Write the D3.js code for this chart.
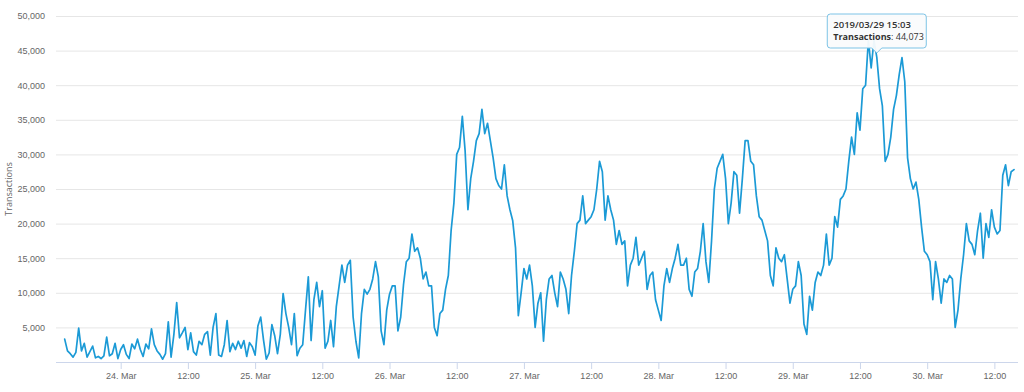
<!DOCTYPE html>
<html>
<head>
<meta charset="utf-8">
<script src="https://cdn.jsdelivr.net/npm/d3@7"></script>
<style>
  html, body { margin: 0; padding: 0; background: #ffffff; }
  svg { display: block; font-family: "Open Sans", "DejaVu Sans", sans-serif; }
</style>
</head>
<body>
<svg id="chart" width="1024" height="392"></svg>
<script>
// ---- data ----
const seriesName = "Transactions";
const seriesStart = "2019-03-23T14:00:00Z";   // first sample
const seriesStepMinutes = 30;                  // sampling interval
const transactions = [
  3300, 1600, 1200, 700, 1400, 4900, 1600, 2700, 700, 1500,
  2300, 600, 800, 500, 900, 3600, 900, 1200, 2700, 500,
  1800, 2500, 1100, 500, 2600, 1900, 3300, 1800, 800, 2600,
  1900, 4800, 2500, 1600, 1100, 400, 1200, 5800, 700, 4000,
  8600, 3500, 4200, 5000, 1800, 4200, 1500, 1000, 3000, 2500,
  4000, 4400, 1000, 5000, 7000, 1000, 800, 2500, 6000, 1500,
  2700, 1800, 3000, 2000, 3100, 800, 2800, 2200, 1000, 5200,
  6500, 3200, 400, 1300, 5400, 3800, 1200, 4000, 9900, 7000,
  5000, 2500, 7000, 900, 2000, 2500, 7500, 12300, 3100, 9000,
  11500, 8000, 10300, 2000, 3000, 6000, 2200, 8000, 11000, 14000,
  11500, 14000, 14700, 6500, 3000, 600, 7000, 10500, 9800, 10500,
  12000, 14500, 12300, 4500, 2500, 7500, 9800, 11000, 11000, 4500,
  6500, 11200, 14500, 15000, 18500, 16000, 16500, 15000, 12000, 13000,
  11000, 11000, 5000, 3800, 7000, 7500, 10500, 12500, 19000, 23000,
  30000, 31000, 35500, 30500, 22000, 26500, 29000, 32000, 33000, 36500,
  33000, 34500, 32000, 29500, 26500, 25500, 25000, 28500, 24000, 22000,
  20400, 16500, 6700, 10000, 13500, 12000, 14000, 11000, 5000, 8500,
  10000, 3000, 9000, 12000, 12500, 10000, 8000, 13000, 12000, 10500,
  7000, 12500, 16000, 20000, 20500, 24000, 20000, 20500, 21000, 22000,
  25000, 29000, 27500, 20500, 24000, 22000, 20500, 17000, 19000, 17000,
  17500, 11000, 14000, 15000, 18000, 14000, 15000, 16000, 10500, 12500,
  13000, 9000, 7500, 6000, 11000, 13500, 11500, 13500, 15000, 17000,
  14000, 14000, 15000, 10500, 9500, 13000, 13500, 16000, 20000, 14500,
  11500, 17500, 25000, 28000, 29000, 30000, 26500, 20000, 23000, 27500,
  27000, 21500, 26500, 32000, 32000, 29000, 28500, 24000, 21000, 20500,
  19000, 17500, 12500, 11000, 16500, 15000, 14500, 15500, 12000, 8500,
  10500, 11000, 14500, 12500, 5500, 4000, 9500, 7500, 11500, 13000,
  12500, 14000, 18500, 14000, 15000, 21000, 19500, 23500, 24000, 25000,
  29000, 32500, 30000, 36000, 33500, 39500, 40000, 46500, 42500, 46500,
  44073, 39500, 37000, 29000, 30000, 32500, 36500, 38500, 41500, 44000,
  40500, 29500, 26500, 25000, 26000, 23500, 19500, 16000, 15500, 14500,
  9000, 14500, 12000, 8500, 12000, 11500, 12500, 12000, 5000, 7500,
  12000, 15500, 20000, 17500, 17000, 15500, 19000, 21500, 15000, 20000,
  18000, 22000, 19500, 18500, 19000, 27000, 28500, 25500, 27500, 27800
];
const yTickValues = [5000, 10000, 15000, 20000, 25000, 30000, 35000, 40000, 45000, 50000];
const xDomain = ["2019-03-23T12:27:00Z", "2019-03-30T16:13:00Z"];
const yDomain = [0, 50000];
const tooltipTime = "2019-03-29T15:00:00Z";
const tooltipLabel = "2019/03/29 15:03";
const tooltipValue = 44073;

// ---- layout ----
const W = 1024, H = 392;
const plot = { left: 56, right: 1018, top: 16, bottom: 362 };
const lineColor = "#1b9ad6";

const svg = d3.select("#chart");
const start = new Date(seriesStart);
const data = transactions.map((v, i) => ({
  t: new Date(start.getTime() + i * seriesStepMinutes * 60000),
  v
}));

const x = d3.scaleUtc()
  .domain(xDomain.map(s => new Date(s)))
  .range([plot.left, plot.right]);
const y = d3.scaleLinear().domain(yDomain).range([plot.bottom, plot.top]);

// grid lines
const yAxis = d3.axisLeft(y)
  .tickValues(yTickValues)
  .tickSize(-(plot.right - plot.left))
  .tickPadding(11)
  .tickFormat(d3.format(","));
const gy = svg.append("g")
  .attr("transform", `translate(${plot.left},0)`)
  .call(yAxis);
gy.select(".domain").remove();
gy.selectAll(".tick line").attr("stroke", "#e6e6e6").attr("stroke-width", 1);
gy.selectAll(".tick text")
  .attr("fill", "#666666")
  .style("font-size", "9px");

// y title
svg.append("text")
  .attr("transform", `translate(12,${(plot.top + plot.bottom) / 2}) rotate(-90)`)
  .attr("text-anchor", "middle")
  .attr("fill", "#666666")
  .style("font-size", "9px")
  .text(seriesName);

// x axis
const xTicks = d3.utcHour.every(12).range(new Date("2019-03-24T00:00:00Z"), new Date("2019-03-30T13:00:00Z"));
const xAxis = d3.axisBottom(x)
  .tickValues(xTicks)
  .tickSize(7)
  .tickPadding(4)
  .tickFormat(d => d.getUTCHours() === 0 ? d3.utcFormat("%-d. %b")(d) : d3.utcFormat("%H:%M")(d));
const gx = svg.append("g")
  .attr("transform", `translate(0,${plot.bottom})`)
  .call(xAxis);
gx.select(".domain")
  .attr("d", `M${plot.left},0.5H${plot.right}`)
  .attr("stroke", "#ccd6eb");
gx.selectAll(".tick line").attr("stroke", "#ccd6eb");
gx.selectAll(".tick text")
  .attr("fill", "#666666")
  .style("font-size", "9px");

// series line
const line = d3.line()
  .x(d => x(d.t))
  .y(d => y(d.v));
svg.append("path")
  .datum(data)
  .attr("fill", "none")
  .attr("stroke", lineColor)
  .attr("stroke-width", 1.7)
  .attr("stroke-linejoin", "round")
  .attr("stroke-linecap", "round")
  .attr("d", line);

// tooltip
const px = x(new Date(tooltipTime));
const py = y(tooltipValue);
const tw = 99, th = 34;
const bx = px - tw / 2, by = py - 9 - th;
const tip = svg.append("g");
tip.append("path")
  .attr("d", `M${bx + 3},${by} H${bx + tw - 3} Q${bx + tw},${by} ${bx + tw},${by + 3} V${by + th - 3} Q${bx + tw},${by + th} ${bx + tw - 3},${by + th} H${px + 5} L${px},${by + th + 5} L${px - 5},${by + th} H${bx + 3} Q${bx},${by + th} ${bx},${by + th - 3} V${by + 3} Q${bx},${by} ${bx + 3},${by} Z`)
  .attr("fill", "rgba(250,251,252,0.95)")
  .attr("stroke", "#7cc3e6")
  .attr("stroke-width", 1);
tip.append("text")
  .attr("x", bx + 6)
  .attr("y", by + 13.5)
  .attr("fill", "#333333")
  .style("font-size", "9.5px")
  .style("font-weight", "600")
  .text(tooltipLabel);
const t2 = tip.append("text")
  .attr("x", bx + 6)
  .attr("y", by + 26)
  .attr("fill", "#333333")
  .style("font-size", "9px");
t2.append("tspan").style("font-weight", "700").text(seriesName);
t2.append("tspan").text(": " + d3.format(",")(tooltipValue));
</script>
</body>
</html>
